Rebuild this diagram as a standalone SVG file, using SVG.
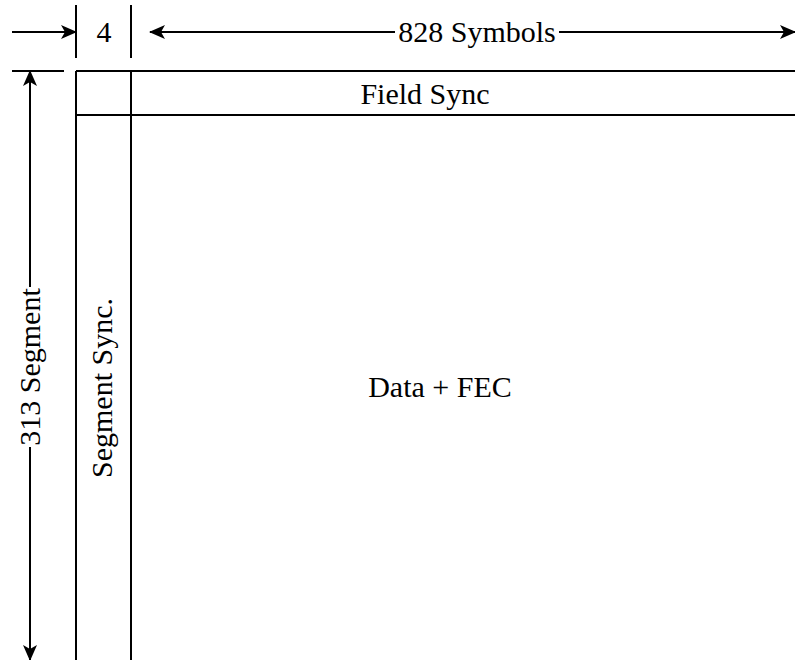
<svg xmlns="http://www.w3.org/2000/svg" width="795" height="660" viewBox="0 0 795 660">
<style>
.ln{stroke:#000;stroke-width:2;fill:none}
text{font-family:"Liberation Serif","Times New Roman",serif;font-size:30px;fill:#000;text-anchor:middle}
</style>
<defs>
<marker id="ah" viewBox="0 0 16 14" refX="15" refY="7" markerWidth="16" markerHeight="14" markerUnits="userSpaceOnUse" orient="auto">
<path d="M0,0 L16,7 L0,14 L4,7 Z" fill="#000"/>
</marker>
</defs>
<rect width="795" height="660" fill="#fff"/>
<g id="connectors">
<line class="ln" x1="12" y1="32" x2="76" y2="32" marker-end="url(#ah)"/>
<line class="ln" x1="76" y1="5" x2="76" y2="58"/>
<line class="ln" x1="131" y1="5" x2="131" y2="58"/>
<line class="ln" x1="395" y1="32" x2="150" y2="32" marker-end="url(#ah)"/>
<line class="ln" x1="559" y1="32" x2="795" y2="32" marker-end="url(#ah)"/>
<line class="ln" x1="12" y1="71" x2="64" y2="71"/>
<line class="ln" x1="30" y1="287" x2="30" y2="71" marker-end="url(#ah)"/>
<line class="ln" x1="30" y1="447" x2="30" y2="660" marker-end="url(#ah)"/>
</g>
<g id="labels">
<text x="104" y="42">4</text>
<text x="477" y="42">828 Symbols</text>
<text transform="translate(40,367) rotate(-90)">313 Segment</text>
</g>
<g id="frame">
<line class="ln" x1="76" y1="71" x2="795" y2="71"/>
<line class="ln" x1="76" y1="71" x2="76" y2="660"/>
<line class="ln" x1="131" y1="71" x2="131" y2="660"/>
</g>
<g id="field-sync">
<line class="ln" x1="76" y1="115" x2="795" y2="115"/>
<text x="425" y="104">Field Sync</text>
</g>
<g id="segment-sync">
<text transform="translate(112,388) rotate(-90)">Segment Sync.</text>
</g>
<g id="data-fec">
<text x="440" y="397">Data + FEC</text>
</g>
</svg>
